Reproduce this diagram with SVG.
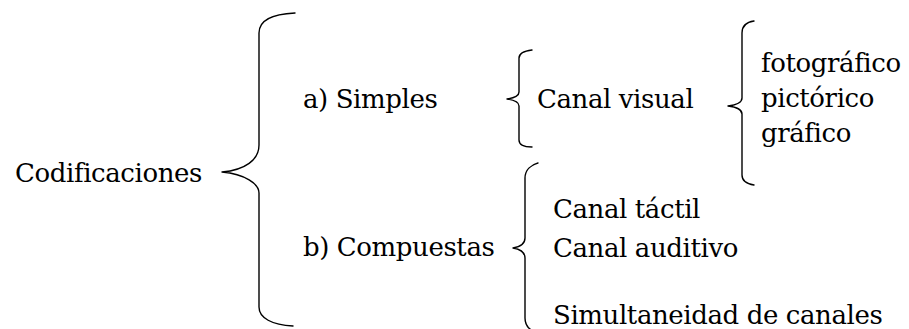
<svg xmlns="http://www.w3.org/2000/svg" width="909" height="329" viewBox="0 0 909 329">
  <style>
    text { font-family: 'DejaVu Serif', serif; font-size: 26px; letter-spacing: -0.4px; fill: #000; }
    .brace { fill: none; stroke: #000; stroke-width: 1.4; stroke-linejoin: round; stroke-linecap: round; }
  </style>
  <rect width="909" height="329" fill="#fff"/>

  <!-- braces linking each heading to its sub-items -->
  <g id="connectors">
    <path class="brace" d="M295,13 C272,14 259,20 259,33 V145 C259,160 245,170 222,172 C245,174 259,184 259,193 V307 C259,318 272,325 293,326"/>
    <path class="brace" d="M532,50 C524,51 519,53 519,58 V92 C519,96 514,98 507,99 C514,100 519,102 519,106 V140 C519,145 524,147 532,147"/>
    <path class="brace" d="M754,21 C747,22 742,26 742,33 V98 C742,103 736,105 728,106 C736,107 742,109 742,114 V175 C742,181 747,184 754,185"/>
    <path class="brace" d="M538,163 C531,165 525,170 525,178 V238 C525,244 519,247 513,248 C519,249 525,252 525,258 V318 C525,325 529,329 533,331"/>
  </g>

  <g id="codificaciones"><text x="15" y="182">Codificaciones</text></g>
  <g id="simples"><text x="303" y="108">a) Simples</text></g>
  <g id="compuestas"><text x="303" y="256">b) Compuestas</text></g>
  <g id="canal-visual"><text x="537" y="108">Canal visual</text></g>
  <g id="fotografico"><text x="761" y="72">fotográfico</text></g>
  <g id="pictorico"><text x="761" y="107">pictórico</text></g>
  <g id="grafico"><text x="761" y="142">gráfico</text></g>
  <g id="canal-tactil"><text x="553" y="218">Canal táctil</text></g>
  <g id="canal-auditivo"><text x="553" y="257">Canal auditivo</text></g>
  <g id="simultaneidad"><text x="553" y="324">Simultaneidad de canales</text></g>
</svg>
